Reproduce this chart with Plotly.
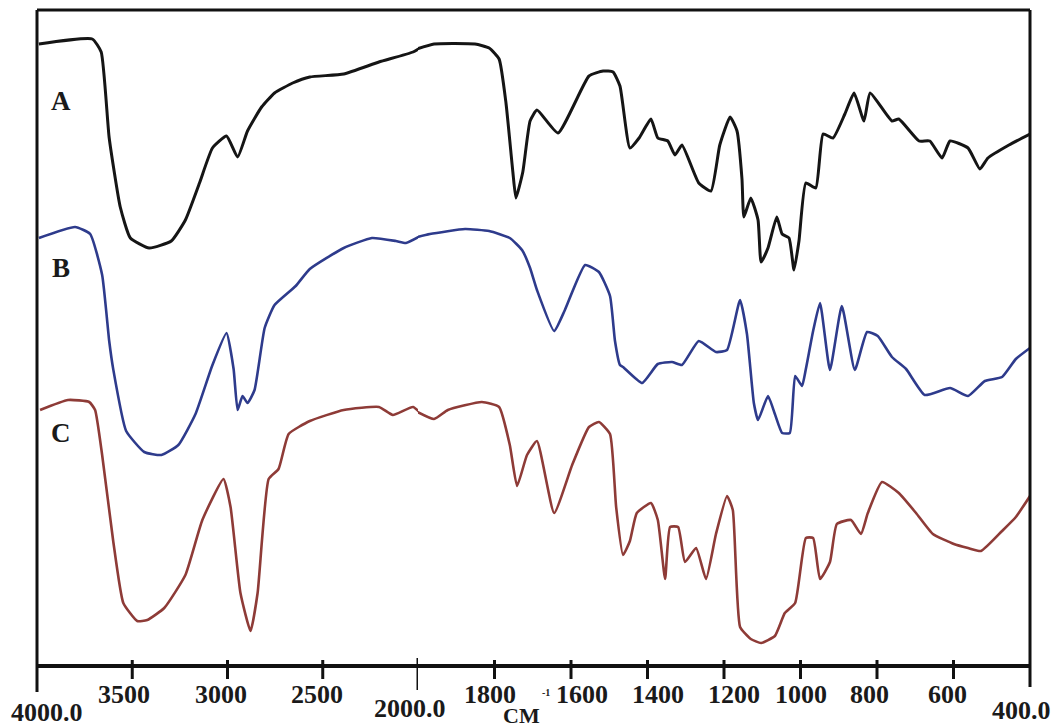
import plotly.graph_objects as go

# FTIR spectra: wavenumber (cm-1) and relative transmittance (stacked, arbitrary units)
wn_a = [3990, 3710, 3663, 3621, 3563, 3510, 3411, 3295, 3221, 3147,
        3079, 3005, 2947, 2895, 2821, 2753, 2658, 2568, 2390, 2205,
        2026, 1958, 1851, 1814, 1788, 1770, 1752, 1744, 1726, 1707,
        1689, 1634, 1553, 1516, 1490, 1472, 1446, 1422, 1391, 1373,
        1347, 1328, 1310, 1266, 1234, 1211, 1184, 1166, 1153, 1148,
        1130, 1111, 1103, 1085, 1062, 1048, 1030, 1017, 1004, 986,
        960, 941, 915, 884, 860, 834, 818, 761, 743, 690,
        662, 630, 609, 562, 531, 510, 455, 400]
tr_a = [622, 627, 614, 528, 459, 428, 418, 425, 446, 483,
        518, 530, 509, 535, 559, 573, 583, 589, 592, 604,
        614, 622, 622, 618, 607, 563, 494, 468, 494, 545,
        556, 533, 590, 595, 594, 580, 518, 528, 547, 528,
        525, 511, 521, 483, 475, 521, 549, 535, 487, 449,
        468, 446, 404, 418, 449, 432, 428, 396, 425, 483,
        478, 532, 528, 552, 573, 545, 573, 545, 547, 525,
        525, 508, 525, 518, 497, 508, 521, 532]

wn_b = [3990, 3800, 3721, 3658, 3621, 3600, 3532, 3437, 3347, 3258,
        3168, 3079, 3005, 2968, 2947, 2921, 2895, 2858, 2805, 2753,
        2642, 2568, 2390, 2242, 2116, 2063, 1969, 1877, 1814, 1760,
        1728, 1707, 1689, 1644, 1616, 1563, 1527, 1498, 1485, 1472,
        1464, 1414, 1373, 1336, 1310, 1266, 1221, 1192, 1158, 1140,
        1122, 1111, 1085, 1067, 1048, 1028, 1014, 996, 986, 967,
        949, 923, 892, 858, 826, 798, 761, 724, 675, 609,
        562, 518, 473, 437, 400]
tr_b = [428, 439, 432, 391, 325, 297, 235, 214, 211, 221,
        252, 301, 333, 297, 256, 270, 263, 276, 338, 361,
        380, 397, 418, 428, 425, 423, 432, 437, 435, 428,
        416, 398, 376, 335, 356, 401, 394, 370, 325, 301,
        299, 283, 302, 304, 301, 325, 314, 316, 366, 332,
        263, 246, 270, 252, 233, 233, 290, 280, 297, 335,
        363, 296, 360, 296, 334, 330, 309, 297, 271, 278,
        270, 285, 289, 307, 318]

wn_c = [3984, 3837, 3726, 3695, 3658, 3600, 3547, 3474, 3421, 3332,
        3221, 3132, 3021, 2984, 2932, 2879, 2842, 2784, 2732, 2679,
        2568, 2390, 2205, 2132, 2026, 1958, 1922, 1833, 1788, 1760,
        1741, 1715, 1689, 1644, 1597, 1553, 1527, 1498, 1482, 1464,
        1446, 1428, 1391, 1373, 1354, 1341, 1320, 1302, 1273, 1247,
        1221, 1192, 1177, 1158, 1130, 1103, 1067, 1041, 1014, 986,
        967, 949, 923, 905, 868, 842, 824, 787, 743, 698,
        654, 599, 562, 528, 473, 437, 400]
tr_c = [256, 266, 264, 256, 211, 125, 63, 45, 46, 58,
        91, 146, 187, 159, 73, 35, 73, 187, 197, 232,
        245, 256, 259, 251, 259, 247, 256, 264, 259, 221,
        180, 211, 225, 153, 201, 239, 244, 232, 159, 111,
        125, 153, 163, 146, 87, 139, 139, 104, 118, 87,
        132, 170, 156, 39, 27, 23, 30, 53, 63, 128,
        128, 87, 104, 142, 146, 132, 153, 184, 173, 153,
        132, 122, 118, 115, 135, 149, 170]

series_names = ["A", "B", "C"]
upper_ticks = [3500, 3000, 2500]                            # 4000-2000 cm-1 half-scale section
lower_ticks = [1800, 1600, 1400, 1200, 1000, 800, 600]      # 2000-400 cm-1 section
end_ticks = [4000, 2000, 400]                               # labelled with one decimal

SCALE_BREAK = 2000
colors = ["#151515", "#2e3b8c", "#8e3b37"]
widths = [3.0, 2.6, 2.6]
label_y = [565, 398, 233]
SERIF = "Liberation Serif, Times New Roman, serif"
INK = "#111111"

W, H = 1061, 728
ML, MR, MT, MB = 37, 31, 10, 62
PW, PH = W - ML - MR, H - MT - MB
split = (418 - ML) / PW   # paper position of the 2000 cm-1 break


def split_at(wn, tr, brk=SCALE_BREAK):
    k = next(i for i, w in enumerate(wn) if w < brk)
    return (wn[:k + 1], tr[:k + 1]), (wn[k - 1:], tr[k - 1:])


def axis_of(t):
    return "x" if t >= SCALE_BREAK else "x2"


fig = go.Figure()
for wn, tr, col, lw in zip([wn_a, wn_b, wn_c], [tr_a, tr_b, tr_c], colors, widths):
    (wu, tu), (wl, tl) = split_at(wn, tr)
    for xs, ys, ax in ((wu, tu, "x"), (wl, tl, "x2")):
        fig.add_trace(go.Scatter(x=xs, y=ys, xaxis=ax, yaxis="y", mode="lines",
                                 line=dict(color=col, width=lw, shape="spline", smoothing=0.45),
                                 hoverinfo="skip", showlegend=False))

axis_style = dict(showticklabels=False, showgrid=False, zeroline=False, showline=False,
                  ticks="", fixedrange=True)
fig.update_layout(
    width=W, height=H,
    margin=dict(l=ML, r=MR, t=MT, b=MB),
    paper_bgcolor="white", plot_bgcolor="white",
    xaxis=dict(domain=[0, split], range=[4000, SCALE_BREAK], anchor="y", **axis_style),
    xaxis2=dict(domain=[split, 1], range=[SCALE_BREAK, 400], anchor="y", **axis_style),
    yaxis=dict(range=[0, PH], visible=False, fixedrange=True),
)


def py(pixel_row):
    """Paper y for a row measured from the top of the figure."""
    return (H - MB - pixel_row) / PH


# frame: top, left, right and the thick wavenumber axis
frame = [
    dict(x0=0, x1=1, y0=1, y1=1, width=3),
    dict(x0=0, x1=0, y0=py(692), y1=1, width=3),
    dict(x0=1, x1=1, y0=py(687), y1=1, width=3),
    dict(x0=0, x1=1, y0=0, y1=0, width=4),
]
for f in frame:
    fig.add_shape(type="line", xref="paper", yref="paper", x0=f["x0"], x1=f["x1"],
                  y0=f["y0"], y1=f["y1"], line=dict(color=INK, width=f["width"]))

# tick marks straddling the axis; the scale break gets a longer one
for t in upper_ticks + lower_ticks:
    fig.add_shape(type="line", xref=axis_of(t), yref="paper", x0=t, x1=t,
                  y0=py(660), y1=py(679), line=dict(color=INK, width=3))
fig.add_shape(type="line", xref="x", yref="paper", x0=SCALE_BREAK, x1=SCALE_BREAK,
              y0=py(658), y1=py(690), line=dict(color=INK, width=3))

tick_font = dict(family=SERIF, size=26, color="#1a1a1a")
label_shift = {3500: -8, 3000: -7, 2500: -6, 1800: -5, 1600: 11, 1400: 10,
               1200: 10, 1000: 0, 800: -8, 600: -6}
for t in upper_ticks + lower_ticks:
    fig.add_annotation(x=t, xref=axis_of(t), y=py(694), yref="paper",
                       text=f"<b>{t}</b>", showarrow=False, font=tick_font,
                       xanchor="center", yanchor="middle", xshift=label_shift[t])

end_pos = {4000: ("x", 10, 712), 2000: ("x", -8, 709), 400: ("x2", -9, 710)}
for t in end_ticks:
    ref, dx, row = end_pos[t]
    fig.add_annotation(x=t, xref=ref, y=py(row), yref="paper", text=f"<b>{t:.1f}</b>",
                       showarrow=False, font=tick_font, xanchor="center",
                       yanchor="middle", xshift=dx)

# unit label
fig.add_annotation(x=0.4875, xref="paper", y=py(715), yref="paper", text="<b>CM</b>",
                   showarrow=False, font=dict(family=SERIF, size=22, color="#1a1a1a"),
                   xanchor="center", yanchor="middle")
fig.add_annotation(x=0.5125, xref="paper", y=py(692), yref="paper", text="<b>-1</b>",
                   showarrow=False, font=dict(family=SERIF, size=10, color="#1a1a1a"),
                   xanchor="center", yanchor="middle")

# spectrum labels
for name, yv in zip(series_names, label_y):
    fig.add_annotation(x=3874, xref="x", y=yv, yref="y", text=f"<b>{name}</b>",
                       showarrow=False, font=dict(family=SERIF, size=27, color="#1a1a1a"),
                       xanchor="center", yanchor="middle")

fig.write_html("out.html")
